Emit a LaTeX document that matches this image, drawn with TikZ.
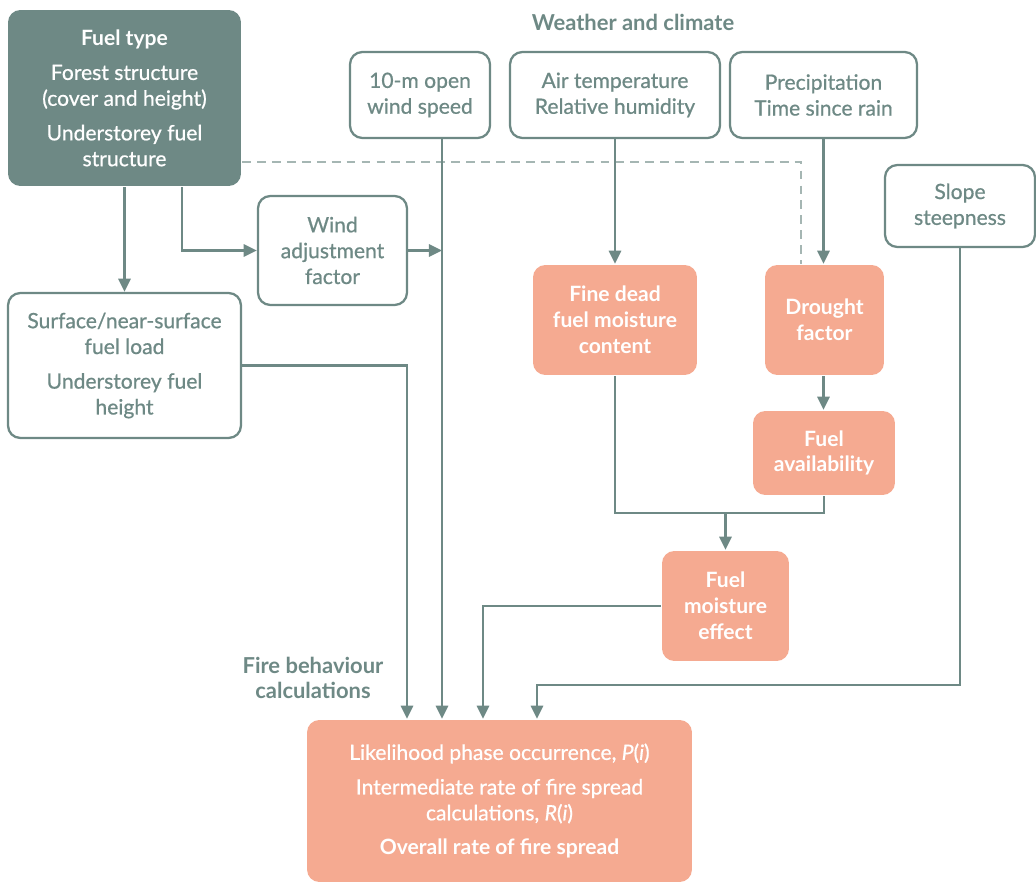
\documentclass[tikz,border=0pt]{standalone}
\usepackage{fontspec}
\setmainfont{Lato}[UprightFeatures={FakeBold=0.7},ItalicFeatures={FakeBold=0.7}]
\usetikzlibrary{arrows.meta}

\definecolor{slate}{HTML}{6E8985}
\definecolor{slatelight}{HTML}{A5B6B3}
\definecolor{salmon}{HTML}{F5AA91}

\begin{document}
\begin{tikzpicture}[x=0.02cm,y=-0.02cm,
  font=\fontsize{12}{14.7}\selectfont,
  box/.style={draw=slate,line width=1.3pt,rounded corners=7pt,fill=white,
    text=slate,align=center,inner sep=0pt},
  hot/.style={box,draw=none,fill=salmon,text=white,font=\fontsize{12}{14.7}\selectfont\bfseries},
  dark/.style={box,draw=none,fill=slate,text=white},
  head/.style={text=slate,align=center,font=\fontsize{12.5}{14.7}\selectfont\bfseries},
  link/.style={draw=slate,line width=1.3pt,-{Triangle[length=7.5pt,width=7pt]}},
  wire/.style={draw=slate,line width=1.3pt},
  feed/.style={draw=slatelight,line width=1.3pt,dash pattern=on 5pt off 3.5pt}]

\useasboundingbox (0,0) rectangle (1036,884);

% inputs
\node[dark,minimum width=4.66cm,minimum height=3.52cm] (fueltype) at (124.5,98)
  {\textbf{Fuel type}\\[5pt]Forest structure\\(cover and height)\\[5pt]Understorey fuel\\structure};
\node[box,minimum width=2.8cm,minimum height=1.72cm] (wind10) at (420,95)
  {10-m open\\wind speed};
\node[box,minimum width=4.2cm,minimum height=1.72cm] (airtemp) at (615,95)
  {Air temperature\\Relative humidity};
\node[box,minimum width=3.74cm,minimum height=1.72cm] (precip) at (823.5,95)
  {Precipitation\\Time since rain};
\node[box,minimum width=3cm,minimum height=1.64cm] (slope) at (960,206)
  {Slope\\steepness};
\node[box,minimum width=2.98cm,minimum height=2.18cm] (windadj) at (332.5,250.5)
  {Wind\\adjustment\\factor};
\node[box,minimum width=4.66cm,minimum height=2.9cm] (surface) at (124.5,365.5)
  {Surface/near-surface\\fuel load\\[5pt]Understorey fuel\\height};

% derived quantities
\node[hot,minimum width=3.28cm,minimum height=2.2cm] (finedead) at (615,320)
  {Fine dead\\fuel moisture\\content};
\node[hot,minimum width=2.38cm,minimum height=2.2cm] (drought) at (824.5,320)
  {Drought\\factor};
\node[hot,minimum width=2.84cm,minimum height=1.68cm] (fuelavail) at (824,453)
  {Fuel\\availability};
\node[hot,minimum width=2.54cm,minimum height=2.2cm] (fme) at (725.5,606)
  {Fuel\\moisture\\effect};
\node[hot,minimum width=7.7cm,minimum height=3.24cm] (ros) at (499.5,801)
  {\mdseries Likelihood phase occurrence, \textit{P}(\textit{i})\\[5pt]
   \mdseries Intermediate rate of fire spread\\\mdseries calculations, \textit{R}(\textit{i})\\[5pt]
   Overall rate of fire spread};

% headings
\node[head] (weather) at (633,22) {Weather and climate};
\node[head] (firecalc) at (313,678) {Fire behaviour\\calculations};

% dashed link fuel type to drought
\draw[feed] (fueltype.east |- 0,162) -| (drought.north -| 801,0);

% connectors
\draw[link] (fueltype.south) -- (surface.north);
\draw[link] (fueltype.south -| 182,0) |- (windadj.west);
\draw[link] (windadj.east) -- (windadj.east -| 442,0);
\draw[link] (wind10.south -| 442,0) -- (ros.north -| 442,0);
\draw[link] (surface.east) -| (ros.north -| 407,0);
\draw[link] (fme.west) -| (ros.north -| 483,0);
\draw[link] (slope.south) -- (slope.south |- 0,685) -| (ros.north -| 537,0);

\draw[link] (airtemp.south) -- (finedead.north);
\draw[link] (precip.south) -- (precip.south |- drought.north);
\draw[link] (drought.south -| precip.south) -- (fuelavail.north -| precip.south);
\draw[wire] (finedead.south) |- (fuelavail.south |- 0,513) -- (fuelavail.south);
\draw[link] (fme.north |- 0,513) -- (fme.north);

\end{tikzpicture}
\end{document}
